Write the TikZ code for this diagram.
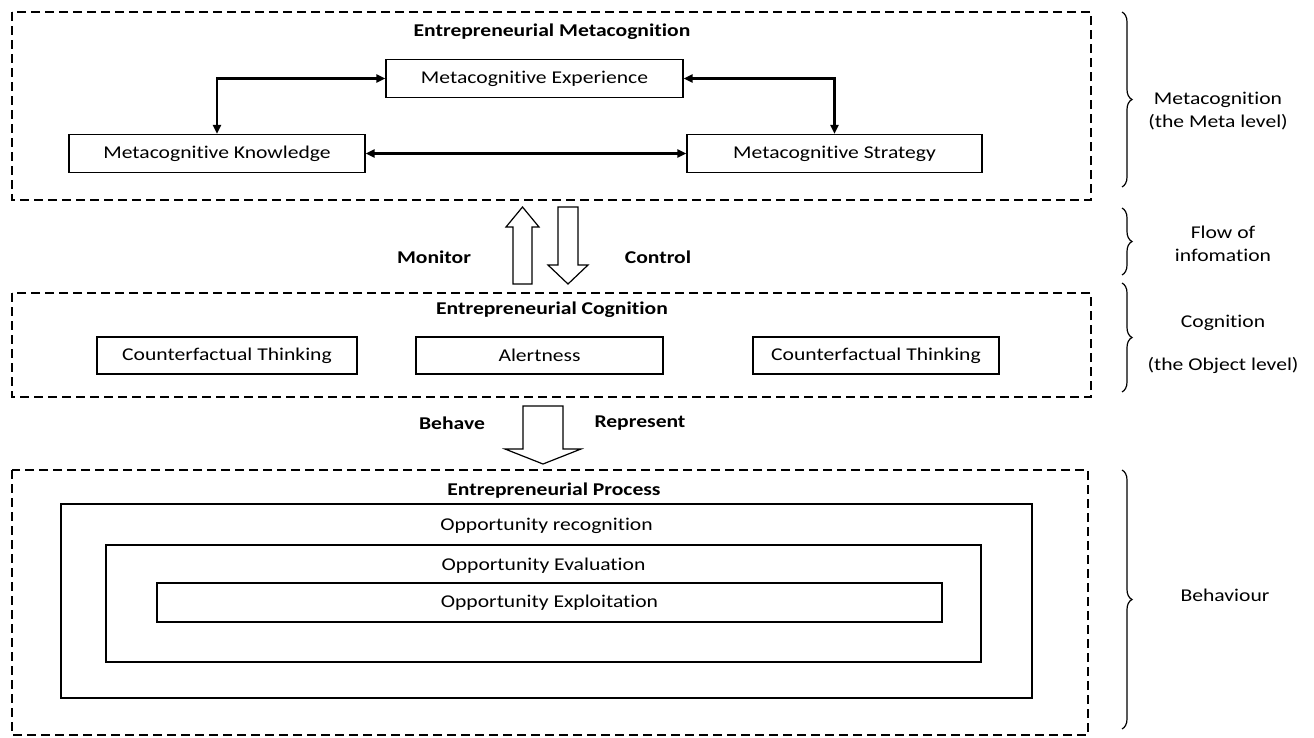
\documentclass[tikz,border=0pt]{standalone}
\usepackage{fontspec}
\setmainfont{Carlito}[FakeStretch=1.2,Ligatures=NoCommon]
\usetikzlibrary{arrows.meta,decorations.pathreplacing}
\begin{document}
\begin{tikzpicture}[x=1pt,y=-1pt,>={Triangle[length=9pt,width=8pt]},
  every node/.style={font=\fontsize{18}{23}\selectfont},
  box/.style={draw,line width=1.2pt,inner sep=0pt,minimum height=38pt},
  dashbox/.style={draw,line width=2.8pt,dash pattern=on 9pt off 5pt},
  link/.style={<->,line width=2.6pt},
  hollow/.style={draw,line width=1.2pt,fill=white},
  rbrace/.style={decorate,decoration={brace,amplitude=10pt},line width=1.2pt},
  ttl/.style={font=\fontsize{18}{23}\selectfont\bfseries}]
  \useasboundingbox (0,0) rectangle (1314,737);
  % three levels
  \draw[dashbox] (12,12) rectangle (1091,200);
  \draw[dashbox] (12,293) rectangle (1091,397);
  \draw[dashbox] (12,470) rectangle (1088,735);
  % meta level
  \node[ttl] (meta) at (552,32) {Entrepreneurial Metacognition};
  \node[box,minimum width=297pt] (exp) at (534.5,78.5) {Metacognitive Experience};
  \node[box,minimum width=296pt] (know) at (217,153.5) {Metacognitive Knowledge};
  \node[box,minimum width=295pt] (strat) at (834.5,153.5) {Metacognitive Strategy};
  \draw[link] (know.north) |- (exp.west);
  \draw[link] (exp.east) -| (strat.north);
  \draw[link] (know.east) -- (strat.west);
  % flow of information
  \draw[hollow] (513,284) -- (513,227) -- (506,227) -- (522.5,207) -- (539,227)
    -- (532,227) -- (532,284) -- cycle;
  \draw[hollow] (558,207) -- (578,207) -- (578,265) -- (588,265) -- (568,284)
    -- (548,265) -- (558,265) -- cycle;
  \node[ttl] (mon) at (434,257) {Monitor};
  \node[ttl] (ctrl) at (658,257) {Control};
  % object level
  \node[ttl] (cog) at (552,310) {Entrepreneurial Cognition};
  \node[box,minimum width=260pt,minimum height=37pt] (cft1) at (227,355.5) {Counterfactual Thinking};
  \node[box,minimum width=247pt,minimum height=37pt] (alert) at (539.5,355.5) {Alertness};
  \node[box,minimum width=246pt,minimum height=37pt] (cft2) at (876,355.5) {Counterfactual Thinking};
  \draw[hollow] (523,406) -- (563,406) -- (563,449) -- (581,449) -- (543,464)
    -- (505,449) -- (523,449) -- cycle;
  \node[ttl] (beh) at (452,423) {Behave};
  \node[ttl] (rep) at (640,423) {Represent};
  % process
  \node[ttl] (proc) at (554,491) {Entrepreneurial Process};
  \node[box,minimum width=971pt,minimum height=194pt] (recog) at (546.5,601) {};
  \node[box,minimum width=875pt,minimum height=117pt] (eval) at (543.5,603.5) {};
  \node[box,minimum width=785pt,minimum height=39pt] (expl) at (549.5,602.5) {};
  \node[yshift=-22pt] at (recog.north) {Opportunity recognition};
  \node[yshift=-21pt] at (eval.north) {Opportunity Evaluation};
  \node at (expl.center) {Opportunity Exploitation};
  % levels on the right
  \draw[rbrace] (1122,12) -- (1122,187);
  \draw[rbrace] (1122,208) -- (1122,275);
  \draw[rbrace] (1122,283) -- (1122,392);
  \draw[rbrace] (1122,470) -- (1122,729);
  \node[align=center] (lmeta) at (1218,111) {Metacognition\\(the Meta level)};
  \node[align=center] (lflow) at (1223,244) {Flow of\\infomation};
  \node (lcog) at (1223,323) {Cognition};
  \node (lobj) at (1223,365) {(the Object level)};
  \node (lbeh) at (1225,595) {Behaviour};
\end{tikzpicture}
\end{document}
